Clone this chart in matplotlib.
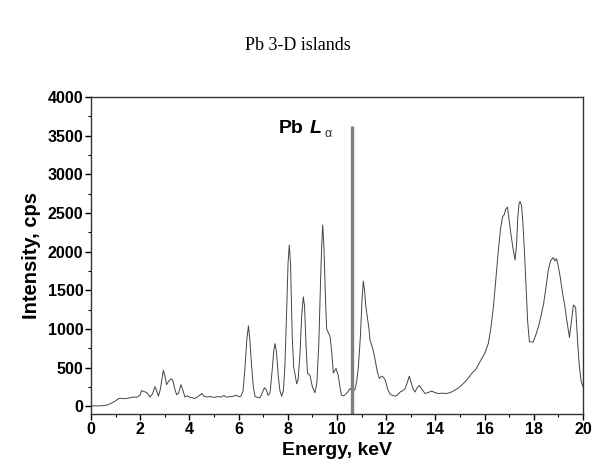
import matplotlib
matplotlib.use("Agg")
import matplotlib.pyplot as plt
from matplotlib.ticker import MultipleLocator

energy_kev = [
    0.00, 0.30, 0.50, 0.64, 0.80, 0.98, 1.10, 1.18, 1.30, 1.45, 1.60, 1.72, 1.85, 1.99,
    2.06, 2.15, 2.26, 2.40, 2.50, 2.60, 2.68, 2.74, 2.82, 2.94, 3.00, 3.07, 3.15, 3.25,
    3.32, 3.40, 3.48, 3.56, 3.66, 3.74, 3.82, 3.92, 4.02, 4.12, 4.22, 4.35, 4.50, 4.60,
    4.70, 4.85, 5.00, 5.15, 5.30, 5.40, 5.50, 5.65, 5.80, 5.90, 6.00, 6.10, 6.18, 6.26,
    6.33, 6.40, 6.46, 6.53, 6.60, 6.67, 6.78, 6.87, 6.97, 7.05, 7.12, 7.20, 7.28, 7.36,
    7.43, 7.48, 7.54, 7.61, 7.68, 7.75, 7.82, 7.88, 7.95, 8.01, 8.06, 8.11, 8.18, 8.24,
    8.29, 8.36, 8.42, 8.50, 8.56, 8.63, 8.68, 8.74, 8.80, 8.90, 9.00, 9.10, 9.18, 9.26,
    9.33, 9.38, 9.42, 9.47, 9.53, 9.58, 9.65, 9.72, 9.80, 9.85, 9.92, 9.96, 10.05, 10.12,
    10.18, 10.25, 10.32, 10.45, 10.53, 10.62, 10.73, 10.80, 10.87, 10.95, 11.02, 11.07,
    11.12, 11.17, 11.23, 11.30, 11.34, 11.40, 11.47, 11.55, 11.64, 11.72, 11.82, 11.90,
    11.96, 12.06, 12.16, 12.26, 12.37, 12.47, 12.57, 12.67, 12.77, 12.86, 12.94, 13.02,
    13.10, 13.17, 13.26, 13.35, 13.45, 13.58, 13.72, 13.85, 14.00, 14.12, 14.30, 14.46,
    14.62, 14.80, 14.95, 15.14, 15.30, 15.48, 15.65, 15.81, 16.00, 16.15, 16.25, 16.36,
    16.46, 16.56, 16.65, 16.73, 16.80, 16.86, 16.93, 17.00, 17.06, 17.15, 17.24, 17.30,
    17.35, 17.40, 17.44, 17.50, 17.55, 17.62, 17.68, 17.75, 17.82, 17.90, 17.98, 18.08,
    18.19, 18.30, 18.40, 18.50, 18.59, 18.68, 18.79, 18.86, 18.92, 18.97, 19.07, 19.17,
    19.26, 19.34, 19.45, 19.53, 19.61, 19.70, 19.77, 19.84, 19.92, 20.00,
]
intensity_cps = [
    5, 5, 8, 15, 35, 65, 95, 105, 98, 102, 110, 120, 115, 140,
    205, 190, 180, 120, 160, 255, 190, 130, 220, 465, 400, 280, 320, 355,
    340, 230, 150, 170, 280, 200, 120, 135, 115, 110, 100, 125, 165, 130,
    120, 125, 115, 125, 120, 140, 118, 125, 130, 145, 125, 130, 200, 500,
    850, 1040, 850, 510, 250, 125, 115, 110, 180, 240, 215, 140, 180, 450,
    720, 810, 700, 400, 200, 130, 200, 500, 1200, 1850, 2085, 1850, 900, 500,
    420, 290, 350, 700, 1150, 1415, 1300, 800, 430, 400, 250, 175, 300, 800,
    1600, 2100, 2345, 2050, 1400, 1000, 950, 900, 650, 430, 470, 490, 400, 250,
    145, 135, 145, 190, 230, 200, 215, 320, 510, 900, 1400, 1620,
    1500, 1300, 1160, 1000, 860, 800, 725, 600, 445, 360, 390, 370,
    340, 220, 155, 140, 130, 150, 185, 200, 230, 310, 390, 300,
    220, 185, 240, 270, 220, 165, 180, 195, 175, 165, 170, 165,
    180, 210, 240, 295, 350, 425, 480, 575, 680, 810, 1000, 1290,
    1650, 2020, 2300, 2450, 2480, 2550, 2575, 2400, 2250, 2050, 1890, 2100,
    2450, 2620, 2650, 2600, 2410, 2000, 1590, 1100, 835, 830, 835, 920,
    1030, 1180, 1330, 1550, 1760, 1880, 1925, 1880, 1910, 1850, 1680, 1460,
    1300, 1115, 890, 1100, 1310, 1280, 900, 555, 330, 255,
]
marker_energy = 10.6
marker_top = 3620

x_ticks = [0, 2, 4, 6, 8, 10, 12, 14, 16, 18, 20]
y_ticks = [0, 500, 1000, 1500, 2000, 2500, 3000, 3500, 4000]

plt.rcParams['font.family'] = ['Liberation Sans', 'DejaVu Sans']

fig = plt.figure(figsize=(5.96, 4.68), dpi=100)
ax = fig.add_axes([91/596, 1-414/468, (583-91)/596, (414-97)/468])

ax.plot(energy_kev, intensity_cps, color='#444444', lw=0.7)
ax.plot([marker_energy, marker_energy], [-100, marker_top], color='#808080', lw=2.4,
        solid_capstyle='butt')

ax.set_xlim(0, 20)
ax.set_ylim(-100, 4000)
ax.set_xticks(x_ticks)
ax.set_yticks(y_ticks)
ax.xaxis.set_minor_locator(MultipleLocator(1))
ax.yaxis.set_minor_locator(MultipleLocator(250))
ax.tick_params(which='major', direction='out', length=4, width=1, labelsize=11.5, pad=1.5)
ax.tick_params(which='minor', direction='out', length=2.5, width=0.8)
for lab in ax.get_xticklabels() + ax.get_yticklabels():
    lab.set_fontweight('bold')
for s in ax.spines.values():
    s.set_linewidth(1.0)
    s.set_color('#333333')

ax.set_xlabel('Energy, keV', fontsize=14, fontweight='bold', labelpad=4)
ax.set_ylabel('Intensity, cps', fontsize=14.5, fontweight='bold', labelpad=5)

ax.text(7.62, 3536, 'Pb', fontsize=14, fontweight='bold', ha='left', va='baseline')
ax.text(8.88, 3536, 'L', fontsize=14, fontweight='bold', style='italic', ha='left', va='baseline')
ax.text(9.5, 3480, 'α', fontsize=9, ha='left', va='baseline', color='#333333')

fig.text(0.5, 1-45/468, 'Pb 3-D islands', ha='center', va='center', fontsize=13,
         family=['Liberation Serif', 'DejaVu Serif'])

fig.savefig('out.png', dpi=100)
